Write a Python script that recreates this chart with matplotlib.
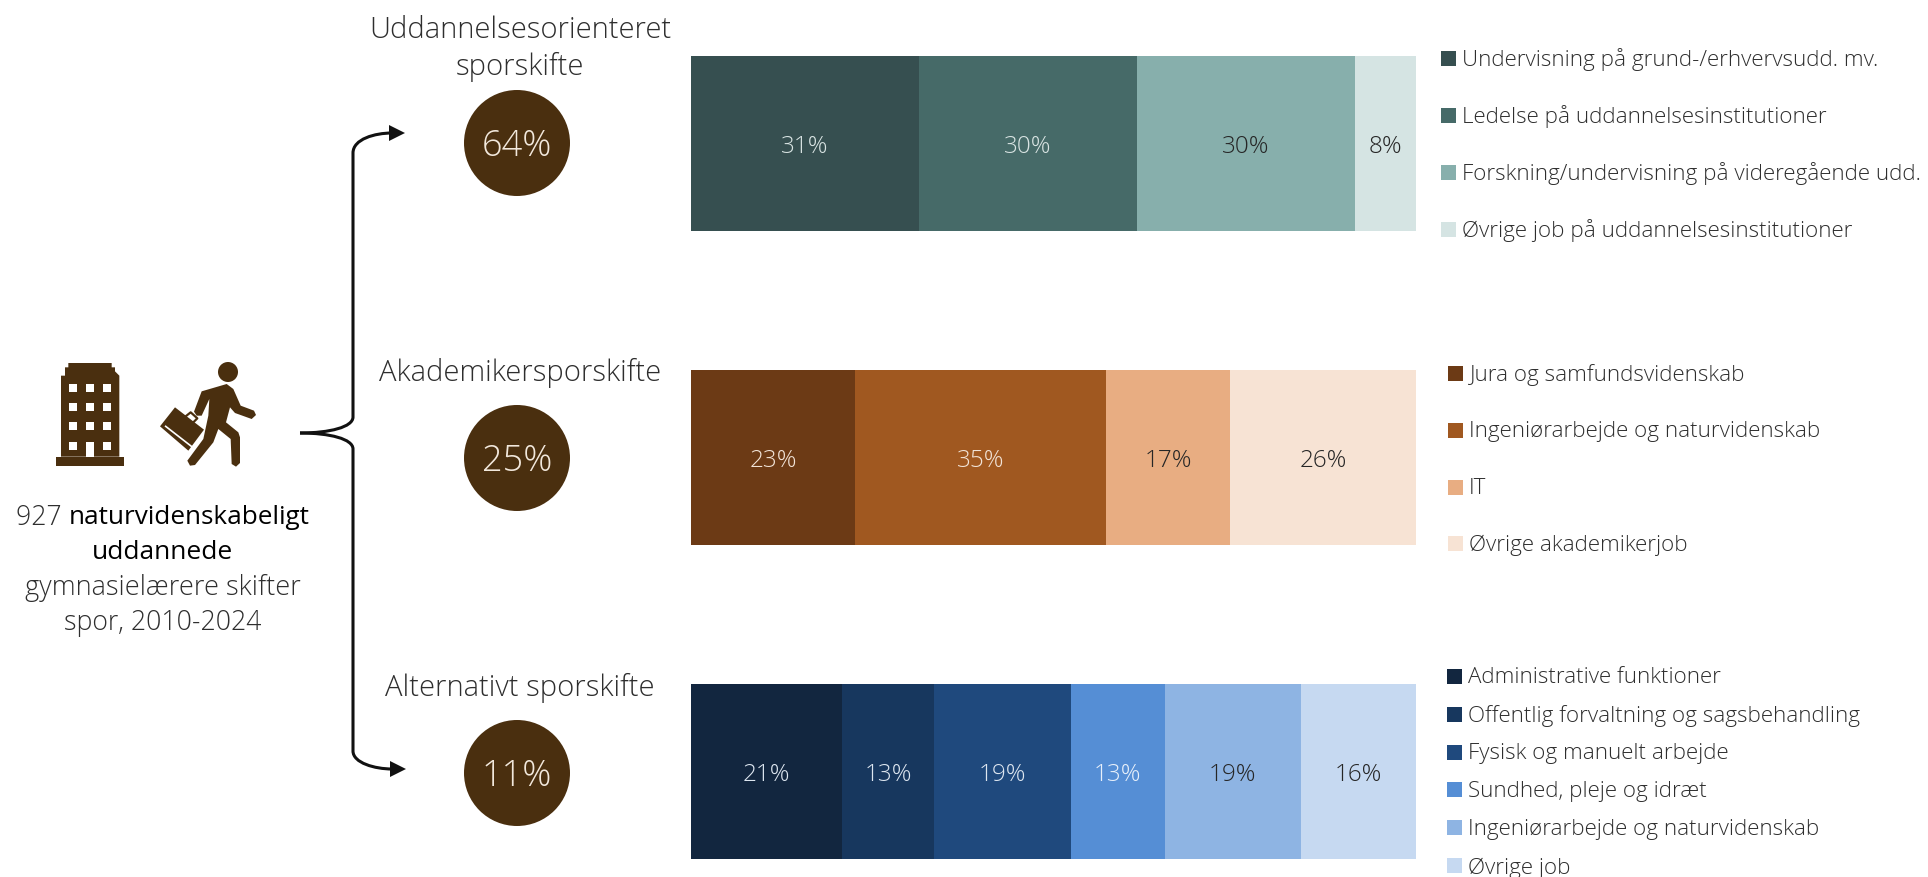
import matplotlib
matplotlib.use("Agg")
import matplotlib.pyplot as plt
from matplotlib.patches import Circle, Rectangle, Polygon, PathPatch
from matplotlib.path import Path

plt.rcParams["font.family"] = "Open Sans"
plt.rcParams["font.weight"] = "light"

TEXT = "#2E2E2E"
BROWN = "#4A2F0F"

groups = ["Uddannelsesorienteret\nsporskifte", "Akademikersporskifte", "Alternativt sporskifte"]
group_shares = [64, 25, 11]

edu_labels = ["Undervisning på grund-/erhvervsudd. mv.", "Ledelse på uddannelsesinstitutioner",
              "Forskning/undervisning på videregående udd.", "Øvrige job på uddannelsesinstitutioner"]
edu_values = [31.4, 30.0, 30.0, 8.4]
edu_colors = ["#364F50", "#466A68", "#87AFAC", "#D5E4E3"]
edu_text = ["#D9E4E3", "#D9E4E3", "#262626", "#262626"]

aka_labels = ["Jura og samfundsvidenskab", "Ingeniørarbejde og naturvidenskab", "IT", "Øvrige akademikerjob"]
aka_values = [22.6, 34.7, 17.1, 25.6]
aka_colors = ["#6C3A15", "#A05820", "#E8AD82", "#F7E3D4"]
aka_text = ["#F2E4D8", "#F2E4D8", "#262626", "#262626"]

alt_labels = ["Administrative funktioner", "Offentlig forvaltning og sagsbehandling", "Fysisk og manuelt arbejde",
              "Sundhed, pleje og idræt", "Ingeniørarbejde og naturvidenskab", "Øvrige job"]
alt_values = [20.8, 12.8, 18.8, 13.0, 18.8, 15.9]
alt_colors = ["#12263F", "#17375E", "#1F497D", "#558ED5", "#8EB4E3", "#C6D9F1"]
alt_text = ["#DDE6F0", "#DDE6F0", "#DDE6F0", "#E8F0FA", "#262626", "#262626"]

W, H = 1928, 878
fig = plt.figure(figsize=(W / 100, H / 100), dpi=100)

# overlay in pixel coordinates for everything that is not a bar
ov = fig.add_axes([0, 0, 1, 1])
ov.set_xlim(0, W)
ov.set_ylim(H, 0)
ov.axis("off")


def stacked(top, values, colors, text_colors):
    ax = fig.add_axes([691 / W, 1 - (top + 175) / H, 725 / W, 175 / H])
    left = 0
    for v, c, tc in zip(values, colors, text_colors):
        ax.barh(0, v, left=left, height=1, color=c, linewidth=0)
        ax.text(left + v / 2, -0.012, f"{v:.0f}%", ha="center", va="center", color=tc, fontsize=17.5)
        left += v
    ax.set_xlim(0, left)
    ax.set_ylim(-0.5, 0.5)
    ax.axis("off")


def legend(x, rows, labels, colors):
    for y, lab, c in zip(rows, labels, colors):
        ov.add_patch(Rectangle((x, y - 7.5), 15, 15, color=c, linewidth=0))
        ov.text(x + 21, y + 1, lab, va="center", ha="left", color=TEXT, fontsize=16.15)


stacked(57, edu_values, edu_colors, edu_text)
stacked(371, aka_values, aka_colors, aka_text)
stacked(685, alt_values, alt_colors, alt_text)

legend(1441, [59, 116, 173, 230], edu_labels, edu_colors)
legend(1448, [374, 431, 488, 544], aka_labels, aka_colors)
legend(1447, [677, 715, 753, 791, 829, 867], alt_labels, alt_colors)

# group titles and circles
for title, share, ty, cy in zip(groups, group_shares, [49, 373, 688], [144, 459, 774]):
    ov.text(520, ty, title, ha="center", va="center", color=TEXT, fontsize=21, linespacing=1.3)
    ov.add_patch(Circle((517, cy), 53, color=BROWN, linewidth=0))
    ov.text(517, cy + 3, f"{share}%", ha="center", va="center", color="#F2E8DC", fontsize=26)

# left text, second weight on the first line
fig.canvas.draw()
r = fig.canvas.get_renderer()
a = ov.text(0, 518, "927 ", va="center", color=TEXT, fontsize=19.2)
b = ov.text(0, 518, "naturvidenskabeligt", va="center", color="black", fontsize=18.8, fontweight="normal")
wa = a.get_window_extent(r).width
wb = b.get_window_extent(r).width
a.set_x(163 - (wa + wb) / 2)
b.set_x(163 - (wa + wb) / 2 + wa)
ov.text(163, 553, "uddannede", ha="center", va="center", color="black", fontsize=19, fontweight="normal")
ov.text(163, 588, "gymnasielærere skifter", ha="center", va="center", color=TEXT, fontsize=19.5)
ov.text(163, 623, "spor, 2010-2024", ha="center", va="center", color=TEXT, fontsize=19.2)

# bracket with two arrows
verts = [(300, 434), (330, 434), (353, 428), (353, 418), (353, 154), (353, 140), (375, 134), (392, 134)]
codes = [Path.MOVETO, Path.CURVE4, Path.CURVE4, Path.CURVE4, Path.LINETO, Path.CURVE4, Path.CURVE4, Path.CURVE4]
ov.add_patch(PathPatch(Path(verts, codes), fill=False, ec="#111111", lw=2.2))
verts = [(300, 434), (330, 434), (353, 440), (353, 450), (353, 752), (353, 764), (375, 770), (392, 770)]
ov.add_patch(PathPatch(Path(verts, codes), fill=False, ec="#111111", lw=2.2))
ov.add_patch(Polygon([(389, 126), (405, 134), (389, 142)], color="#111111", linewidth=0))
ov.add_patch(Polygon([(390, 762), (406, 770), (390, 778)], color="#111111", linewidth=0))


def icon_pts(pts):
    return [(x / 3, 340 + y / 3) for x, y in pts]


# building icon
ov.add_patch(Polygon(icon_pts([(183, 353), (183, 110), (195, 110), (195, 85), (205, 85), (205, 72), (335, 72), (335, 85),
                               (345, 85), (345, 97), (358, 110), (358, 353)]), color=BROWN, linewidth=0))
ov.add_patch(Rectangle((56, 458), 68, 9, color=BROWN, linewidth=0))
for wx in [69, 86, 103]:
    for wy in [385, 404, 423, 443]:
        h = 15 if (wx == 86 and wy == 443) else 8
        ov.add_patch(Rectangle((wx, wy), 8, h, color="white", linewidth=0))

# walking person with briefcase
ov.add_patch(Circle((228, 373), 10, color=BROWN, linewidth=0))
ov.add_patch(Polygon(icon_pts([(605, 157), (680, 135), (700, 150), (722, 200), (762, 215), (768, 228), (755, 240),
                               (705, 222), (690, 205), (678, 250), (715, 280), (720, 295), (720, 372), (708, 383),
                               (695, 375), (692, 300), (655, 270), (640, 310), (585, 378), (570, 380), (562, 365),
                               (610, 300), (625, 230), (628, 180), (605, 230), (590, 230), (582, 218)]),
                     color=BROWN, linewidth=0))
ov.add_patch(Polygon(icon_pts([(480, 262), (525, 205), (612, 272), (565, 335)]), color=BROWN, linewidth=0))
ov.plot(*zip(*icon_pts([(497, 262), (578, 325)])), color="white", lw=1.2)
ov.plot(*zip(*icon_pts([(557, 232), (572, 220), (592, 238), (578, 252)])), color=BROWN, lw=1.6)

fig.savefig("out.png", dpi=100, facecolor="white")
